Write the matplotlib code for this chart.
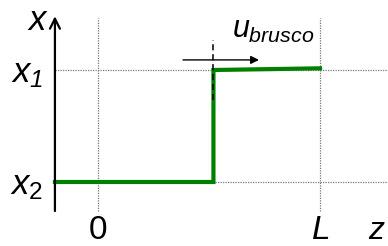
import matplotlib
matplotlib.use("Agg")
import matplotlib.pyplot as plt

plt.rcParams['mathtext.fontset'] = 'custom'
plt.rcParams['mathtext.rm'] = 'Liberation Sans'
plt.rcParams['mathtext.it'] = 'Liberation Sans:italic'
plt.rcParams['mathtext.sf'] = 'Liberation Sans:italic'
plt.rcParams['font.family'] = ['Liberation Sans', 'DejaVu Sans']

# data
z_profile = [-0.194, 0.52, 0.52, 1.0]
x_profile = [0.0, 0.0, 1.0, 1.015]
z_ticks = [0.0, 1.0]
z_tick_labels = ['0', '$L$']
x_ticks = [0.0, 1.0]
x_tick_labels = ['$x_2$', r'$x_{\mathsf{1}}$']
z_step = 0.52

fig = plt.figure(figsize=(3.88, 2.46), dpi=100)
ax = fig.add_axes([0, 0, 1, 1])
ax.set_xlim(-98/222, 290/222)
ax.set_ylim(-64/112, 182/112)
ax.axis('off')

z0 = -0.194
y0 = -0.259
zmax = 1.48
ymax = 1.48

# axes arrows
ax.annotate('', xy=(zmax, y0), xytext=(z0, y0),
            arrowprops=dict(arrowstyle='->', lw=1.6, color='black', mutation_scale=18,
                            shrinkA=0, shrinkB=0))
ax.annotate('', xy=(z0, ymax), xytext=(z0, y0),
            arrowprops=dict(arrowstyle='->', lw=1.6, color='black', mutation_scale=18,
                            shrinkA=0, shrinkB=0))

# dotted grid lines
for zt in z_ticks:
    ax.plot([zt, zt], [y0, 1.46], ls=(0, (1, 1)), color='#777777', lw=0.9)
for xt in x_ticks:
    ax.plot([z0, 1.47], [xt, xt], ls=(0, (1, 1)), color='#777777', lw=0.9)

# profile
ax.plot(z_profile, x_profile, color='#008000', lw=3.0, solid_joinstyle='miter')

# dashed front marker and arrow
ax.plot([z_step, z_step], [0.73, 1.27], ls=(0, (4, 2.5)), color='black', lw=1.1)
ax.annotate('', xy=(0.725, 1.09), xytext=(0.383, 1.09),
            arrowprops=dict(arrowstyle='-|>', lw=1.0, color='black', mutation_scale=12,
                            shrinkA=0, shrinkB=0))
ax.text(0.79, 1.36, r'$u_{brusco}$', fontsize=22, ha='center', va='center')

# labels
ax.text(-0.27, 1.44, r'$x$', fontsize=25, ha='center', va='center')
for xt, lab in zip(x_ticks, x_tick_labels):
    ax.text(-0.32, xt - 0.03, lab, fontsize=25, ha='center', va='center')
for zt, lab in zip(z_ticks, z_tick_labels):
    ax.text(zt, -0.435, lab, fontsize=24, ha='center', va='center')
ax.text(1.258, -0.44, r'$z$', fontsize=23, ha='center', va='center')

fig.savefig('out.png', dpi=100)
